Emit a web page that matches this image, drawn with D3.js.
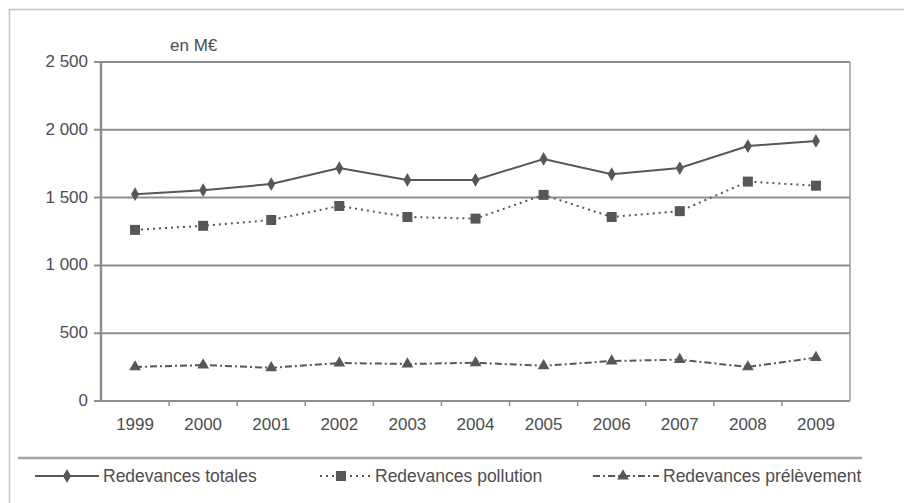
<!DOCTYPE html>
<html>
<head>
<meta charset="utf-8">
<script src="https://cdn.jsdelivr.net/npm/d3@7"></script>
<style>
body { margin: 0; background: #fff; }
svg { display: block; font-family: "Liberation Sans", Arial, sans-serif; }
</style>
</head>
<body>
<svg width="904" height="503"></svg>
<script>
// donnees (en M€)
var years = ["1999","2000","2001","2002","2003","2004","2005","2006","2007","2008","2009"];
var totales = [1525, 1555, 1600, 1718, 1630, 1630, 1785, 1672, 1718, 1880, 1918];
var pollution = [1262, 1292, 1335, 1438, 1357, 1345, 1520, 1357, 1400, 1618, 1588];
var prelevement = [251, 265, 245, 280, 273, 282, 260, 295, 305, 251, 320];
var yTicks = [0, 500, 1000, 1500, 2000, 2500];

var svg = d3.select("svg");
var plotLeft = 101, plotRight = 850, plotTop = 62, plotBottom = 401;

var x = d3.scaleBand().domain(years).range([plotLeft, plotRight]);
var y = d3.scaleLinear().domain([0, 2500]).range([plotBottom, plotTop]);
var fmt = function(d){ return d3.format(",")(d).replace(",", " "); };
var ink = "#575757", txt = "#4d4d4d";

// cadre exterieur
svg.append("path")
    .attr("d", "M9.5,503 V9.5 H904")
    .attr("fill", "none")
    .attr("stroke", "#cbc4bc")
    .attr("stroke-width", 1.5);

// grille
svg.append("g")
    .selectAll("line")
    .data(yTicks)
    .enter().append("line")
    .attr("x1", plotLeft - 7)
    .attr("x2", plotRight)
    .attr("y1", function(d){ return y(d); })
    .attr("y2", function(d){ return y(d); })
    .attr("stroke", "#8e8e8e")
    .attr("stroke-width", 2);

svg.append("line")
    .attr("x1", plotLeft).attr("x2", plotLeft)
    .attr("y1", plotTop).attr("y2", plotBottom)
    .attr("stroke", "#8e8e8e").attr("stroke-width", 2.5);
svg.append("line")
    .attr("x1", plotRight).attr("x2", plotRight)
    .attr("y1", plotTop).attr("y2", plotBottom)
    .attr("stroke", "#9a9a9a").attr("stroke-width", 1.5);

// ticks x
svg.append("g")
    .selectAll("line")
    .data(years.slice(1))
    .enter().append("line")
    .attr("x1", function(d){ return x(d); })
    .attr("x2", function(d){ return x(d); })
    .attr("y1", plotBottom)
    .attr("y2", plotBottom + 5)
    .attr("stroke", "#8e8e8e")
    .attr("stroke-width", 1.5);

svg.append("g")
    .selectAll("text")
    .data(yTicks)
    .enter().append("text")
    .attr("x", 88)
    .attr("y", function(d){ return y(d) + 5; })
    .attr("text-anchor", "end")
    .attr("font-size", 17)
    .attr("fill", txt)
    .text(fmt);

svg.append("g")
    .selectAll("text")
    .data(years)
    .enter().append("text")
    .attr("x", function(d){ return x(d) + x.bandwidth()/2; })
    .attr("y", 430)
    .attr("text-anchor", "middle")
    .attr("font-size", 17)
    .attr("fill", txt)
    .text(function(d){ return d; });

svg.append("text")
    .attr("x", 170).attr("y", 51)
    .attr("font-size", 17)
    .attr("fill", txt)
    .text("en M€");

var cx = function(d, i){ return x(years[i]) + x.bandwidth()/2; };
var line = d3.line().x(cx).y(function(d){ return y(d); });

var series = [
  {name: "Redevances totales", values: totales, dash: null, symbol: d3.symbolDiamond, size: 55},
  {name: "Redevances pollution", values: pollution, dash: "2,4", symbol: d3.symbolSquare, size: 100},
  {name: "Redevances prélèvement", values: prelevement, dash: "7,3,2,3", symbol: d3.symbolTriangle, size: 60}
];

series.forEach(function(s){
  svg.append("path")
      .datum(s.values)
      .attr("d", line)
      .attr("fill", "none")
      .attr("stroke", ink)
      .attr("stroke-width", 2)
      .attr("stroke-dasharray", s.dash);
  svg.append("g")
      .selectAll("path")
      .data(s.values)
      .enter().append("path")
      .attr("transform", function(d, i){ return "translate(" + cx(d, i) + "," + y(d) + ")"; })
      .attr("d", d3.symbol().type(s.symbol).size(s.size))
      .attr("fill", ink);
});

// legende
svg.append("line")
    .attr("x1", 18).attr("x2", 862)
    .attr("y1", 458).attr("y2", 458)
    .attr("stroke", "#a3a3a3").attr("stroke-width", 2.5);

var legX = [[35, 99, 67], [320, 371, 341], [593, 659, 623]];
series.forEach(function(s, i){
  var g = svg.append("g");
  var ly = 476;
  g.append("line")
      .attr("x1", legX[i][0]).attr("x2", legX[i][1])
      .attr("y1", ly).attr("y2", ly)
      .attr("stroke", ink).attr("stroke-width", 2)
      .attr("stroke-dasharray", s.dash);
  g.append("path")
      .attr("transform", "translate(" + legX[i][2] + "," + ly + ")")
      .attr("d", d3.symbol().type(s.symbol).size(s.size))
      .attr("fill", ink);
  g.append("text")
      .attr("x", legX[i][1] + 4).attr("y", ly + 6)
      .attr("font-size", 17.5)
      .attr("fill", txt)
      .text(s.name);
});
</script>
</body>
</html>
